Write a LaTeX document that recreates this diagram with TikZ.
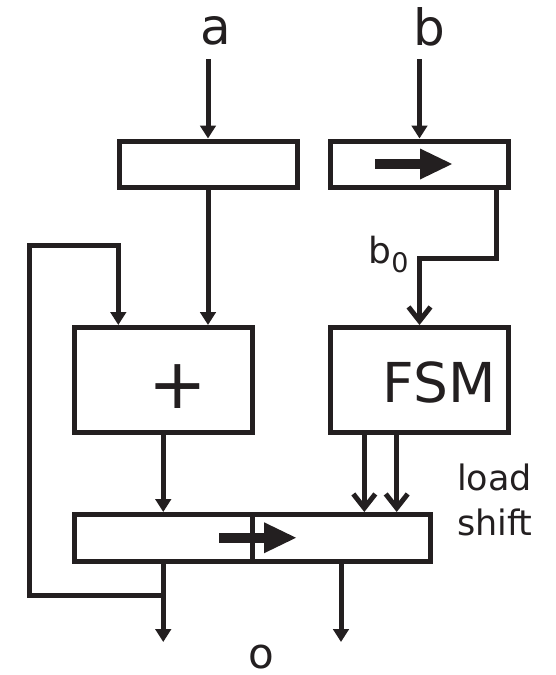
\documentclass[tikz,border=0pt]{standalone}
\usepackage{fontspec}
\setmainfont{DejaVu Sans}
\usetikzlibrary{arrows.meta}
\definecolor{ink}{RGB}{35,31,32}
\begin{document}
\begin{tikzpicture}[x=1pt,y=-1pt,
  box/.style={draw=ink, line width=5pt, rectangle, inner sep=0pt},
  wire/.style={draw=ink, line width=5pt},
  tri/.style={wire,-{Triangle[length=13pt,width=15.5pt]}},
  barb/.style={wire,-{Straight Barb[length=14pt,width=22pt]}},
  lbl/.style={text=ink, inner sep=0pt, outer sep=0pt},
  shiftarr/.pic={\fill[ink] (0,-5) rectangle (46,5); \fill[ink] (45,-15.5) -- (77,0) -- (45,15.5) -- cycle;}
]
\useasboundingbox (0,0) rectangle (555,675);
% boxes
\node[box, minimum width=178pt, minimum height=46pt] (regA) at (208,164) {};
\node[box, minimum width=178pt, minimum height=46pt] (regB) at (419.5,164) {};
\node[box, minimum width=178pt, minimum height=104.5pt] (plus) at (163.25,379.75) {};
\node[box, minimum width=178pt, minimum height=104.5pt] (fsm) at (419.5,379.75) {};
\node[box, minimum width=356pt, minimum height=46.5pt] (bot) at (252,537.75) {};
\draw[wire] (bot.north) -- (bot.south);
% inner arrows
\pic at (375,164) {shiftarr};
\pic at (219,537.75) {shiftarr};
% labels
\node[lbl, font=\fontsize{50}{60}\selectfont] (la) at (215.5,30.8) {a};
\node[lbl, font=\fontsize{50}{60}\selectfont] (lb) at (429,26.5) {b};
\node[lbl, font=\fontsize{70}{80}\selectfont] (lplus) at (177.5,386.2) {+};
\node[lbl, font=\fontsize{55}{66}\selectfont] (lfsm) at (439,382.7) {FSM};
\node[lbl, font=\fontsize{42}{50}\selectfont] (lo) at (261.5,657.5) {o};
\node[lbl, anchor=base west, font=\fontsize{35}{42}\selectfont] (lload) at (457,490) {load};
\node[lbl, anchor=base west, font=\fontsize{35}{42}\selectfont] (lshift) at (457,535) {shift};
\node[lbl, anchor=base west] (lb0) at (368.5,263) {\fontsize{36}{42}\selectfont b\raisebox{-9pt}{\fontsize{27}{32}\selectfont 0}};
% coordinates
\coordinate (ain) at (208,59);
\coordinate (bin) at (419.5,59);
\coordinate (bx) at (496.7,258);
\coordinate (fb) at (163.25,595.5);
\coordinate (fbL) at (29.5,595.5);
\coordinate (fbT) at (118.3,245.5);
\coordinate (o1) at (163.25,642);
\coordinate (o2) at (341,642);
% connectors
\draw[tri] (ain) -- (regA.north);
\draw[tri] (bin) -- (regB.north);
\draw[tri] (regA.south) -- (plus.north -| regA.south);
\draw[barb] (regB.south -| bx) -- (bx) -| (fsm.north);
\draw[tri] (plus.south) -- (bot.north -| plus.south);
\draw[barb] ([xshift=-55.2pt]fsm.south) -- ([xshift=-55.2pt]fsm.south |- bot.north);
\draw[barb] ([xshift=-22.8pt]fsm.south) -- ([xshift=-22.8pt]fsm.south |- bot.north);
\draw[tri] (bot.south -| o1) -- (o1);
\draw[tri] (bot.south -| o2) -- (o2);
\draw[tri] (fb) -- (fbL) |- (fbT) -- (fbT |- plus.north);
\end{tikzpicture}
\end{document}
